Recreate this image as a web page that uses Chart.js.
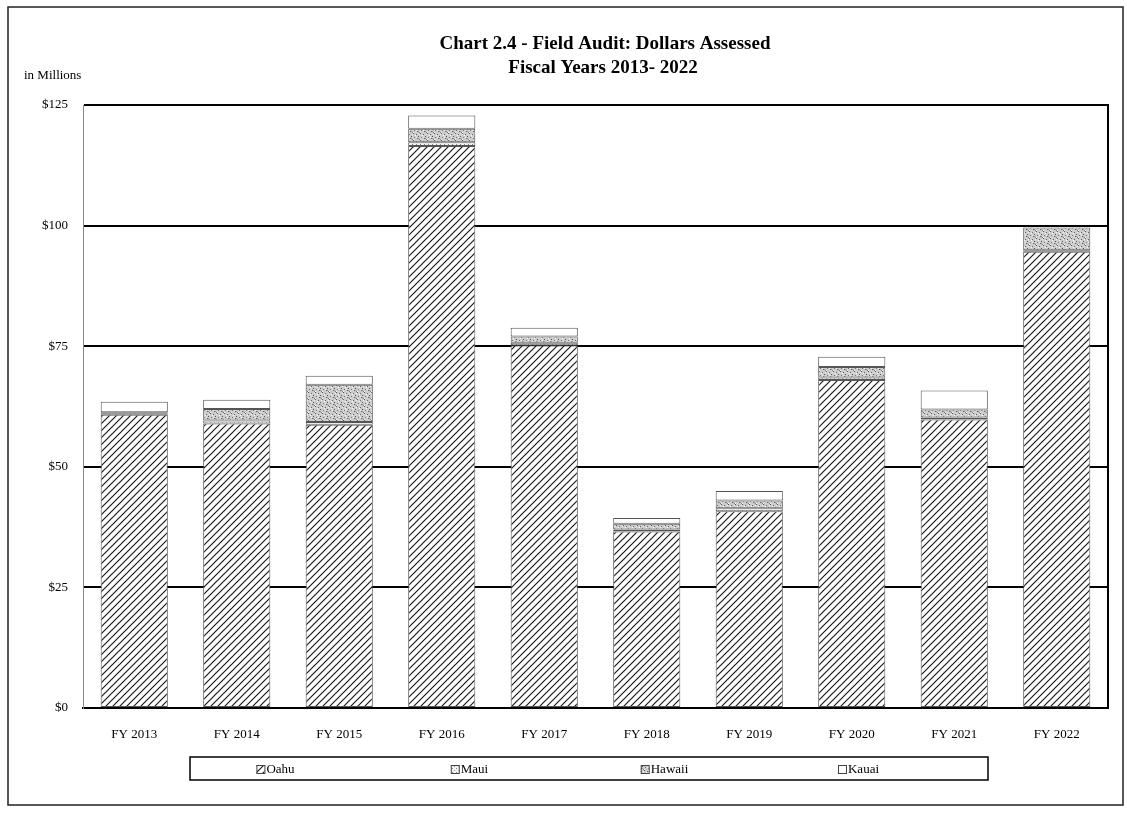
<!DOCTYPE html>
<html>
<head>
<meta charset="utf-8">
<script src="https://cdn.jsdelivr.net/npm/chart.js@4.4.1/dist/chart.umd.min.js"></script>
<style>
  html, body { margin: 0; padding: 0; background: #fff; }
  #wrap { position: relative; width: 1127px; height: 818px; }
</style>
</head>
<body>
<div id="wrap"><canvas id="auditChart" width="1127" height="818"></canvas></div>
<script>
// data (millions of dollars)
const years = ['FY 2013', 'FY 2014', 'FY 2015', 'FY 2016', 'FY 2017', 'FY 2018', 'FY 2019', 'FY 2020', 'FY 2021', 'FY 2022'];
const islands = ['Oahu', 'Maui', 'Hawaii', 'Kauai'];
const oahu   = [60.8, 59.0, 58.7, 116.5, 75.2, 36.6, 40.8, 68.0, 59.8, 94.6];
const maui   = [0.2, 0.6, 0.6, 0.8, 0.5, 0.4, 0.6, 0.5, 0.4, 0.3];
const hawaii = [0.3, 2.4, 7.7, 2.8, 1.3, 1.2, 1.6, 2.2, 1.7, 4.7];
const kauai  = [2.2, 1.9, 1.9, 2.7, 1.8, 1.2, 2.0, 2.1, 3.9, 0.0];
const yTicks = [0, 25, 50, 75, 100, 125];

const serif = '"Liberation Serif", "Times New Roman", serif';

// fill patterns like the printed report
function hatchPattern() {
    const c = document.createElement('canvas');
    c.width = 7; c.height = 7;
    const g = c.getContext('2d');
    g.fillStyle = '#fff';
    g.fillRect(0, 0, 7, 7);
    g.strokeStyle = '#1a1a1a';
    g.lineWidth = 1.2;
    g.beginPath();
    g.moveTo(-1, 8); g.lineTo(8, -1);
    g.moveTo(-3, 3); g.lineTo(3, -3);
    g.moveTo(4, 10); g.lineTo(10, 4);
    g.stroke();
    return g.createPattern(c, 'repeat');
}

function dotPattern(size, bg, dots) {
    const c = document.createElement('canvas');
    c.width = size; c.height = size;
    const g = c.getContext('2d');
    g.fillStyle = bg;
    g.fillRect(0, 0, size, size);
    dots.forEach(function(d) {
        g.fillStyle = d[2];
        g.fillRect(d[0], d[1], 1, 1);
    });
    return g.createPattern(c, 'repeat');
}

const oahuFill = hatchPattern();
const mauiFill = dotPattern(4, '#f2f2f2', [[0, 0, '#888'], [2, 2, '#999']]);
const hawaiiFill = dotPattern(7, '#cdcdcd', [
    [0, 0, '#555'], [3, 1, '#666'], [5, 3, '#555'], [1, 4, '#777'], [4, 5, '#666'],
    [6, 6, '#777'], [2, 2, '#fff'], [6, 1, '#eee'], [0, 6, '#fff'], [3, 4, '#eee'], [5, 5, '#999']
]);
const kauaiFill = '#fff';

const fills = [oahuFill, mauiFill, hawaiiFill, kauaiFill];
const values = [oahu, maui, hawaii, kauai];

const datasets = islands.map(function(name, i) {
    return {
        label: name,
        data: values[i],
        backgroundColor: fills[i],
        borderColor: '#555',
        borderWidth: 1,
        borderSkipped: false,
        categoryPercentage: 1,
        barPercentage: 0.655
    };
});

// frame, title, right border, legend box
const decorations = {
    id: 'decorations',
    afterDraw(chart) {
        const ctx = chart.ctx;
        const area = chart.chartArea;
        ctx.save();

        // outer frame
        ctx.strokeStyle = '#222';
        ctx.lineWidth = 1.5;
        ctx.strokeRect(8, 7, 1115, 798);

        // right edge of plot
        ctx.strokeStyle = '#000';
        ctx.lineWidth = 2;
        ctx.beginPath();
        ctx.moveTo(area.right, area.top - 1);
        ctx.lineTo(area.right, area.bottom + 1);
        ctx.stroke();

        // title
        ctx.fillStyle = '#000';
        ctx.textAlign = 'center';
        ctx.textBaseline = 'middle';
        ctx.font = 'bold 19px ' + serif;
        ctx.fillText('Chart 2.4 - Field Audit: Dollars Assessed', 605, 44);
        ctx.fillText('Fiscal Years 2013- 2022', 603, 68);

        ctx.textAlign = 'left';
        ctx.font = '13px ' + serif;
        ctx.fillText('in Millions', 24, 76);

        // legend
        ctx.strokeStyle = '#000';
        ctx.lineWidth = 1.5;
        ctx.strokeRect(190, 757, 798, 23);
        const centers = [276, 470, 665, 859];
        ctx.font = '13px ' + serif;
        chart.data.datasets.forEach(function(ds, i) {
            const textW = ctx.measureText(ds.label).width;
            const x0 = centers[i] - (textW + 11) / 2;
            ctx.fillStyle = ds.backgroundColor;
            ctx.fillRect(x0, 765, 8, 8);
            ctx.strokeStyle = '#444';
            ctx.lineWidth = 1;
            ctx.strokeRect(x0 + 0.5, 765.5, 8, 8);
            ctx.fillStyle = '#000';
            ctx.fillText(ds.label, x0 + 10, 769.5);
        });

        ctx.restore();
    }
};

const chartCanvas = document.querySelector('#auditChart').getContext('2d');

new Chart(chartCanvas, {
    type: 'bar',
    data: {
        labels: years,
        datasets: datasets
    },
    plugins: [decorations],
    options: {
        responsive: false,
        animation: false,
        layout: {
            padding: { top: 105, right: 19, bottom: 0, left: 0 }
        },
        plugins: {
            legend: { display: false },
            title: { display: false },
            tooltip: { enabled: false }
        },
        scales: {
            x: {
                stacked: true,
                grid: { display: false },
                border: { display: true, color: '#000', width: 2 },
                ticks: {
                    color: '#000',
                    padding: 11,
                    maxRotation: 0,
                    font: { family: serif, size: 13 }
                },
                afterFit(scale) { scale.height = 110; }
            },
            y: {
                stacked: true,
                min: 0,
                max: 125,
                afterBuildTicks(scale) {
                    scale.ticks = yTicks.map(v => ({ value: v }));
                },
                grid: { color: '#000', lineWidth: 2, drawTicks: false },
                border: { display: true, color: '#888', width: 1 },
                ticks: {
                    color: '#000',
                    padding: 15,
                    font: { family: serif, size: 13 },
                    callback: v => '$' + v
                },
                afterFit(scale) { scale.width = 83; }
            }
        }
    }
});
</script>
</body>
</html>
